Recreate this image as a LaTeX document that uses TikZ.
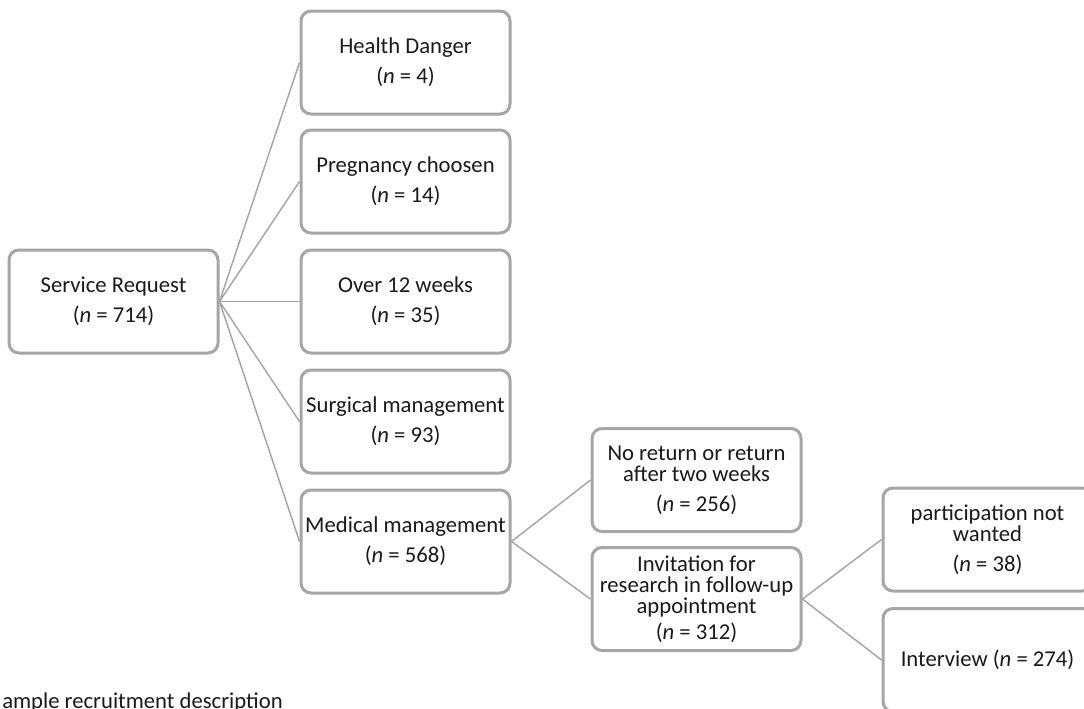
\documentclass[tikz,border=0pt]{standalone}
\usepackage{fontspec}
\setmainfont{Carlito}
\usetikzlibrary{positioning}
\definecolor{SRGrey}{HTML}{A6A6A6}
\definecolor{SRText}{HTML}{1A1A1A}

\begin{document}
\begin{tikzpicture}[x=0.75pt,y=-0.75pt,
    stage/.style={draw=SRGrey,line width=2.25pt,rounded corners=7.5pt,fill=white,
      minimum width=156.75pt,minimum height=77.25pt,align=center,inner sep=1pt,
      font=\fontsize{17}{15.75}\selectfont,text=SRText},
    link/.style={draw=SRGrey,line width=1.1pt}]
    \useasboundingbox (0,0) rectangle (1084,708);
    \node[stage] (req) at (113.5,301.5) {Service Request\\[7pt](\textit{n} = 714)};
    \node[stage] (hd)  at (405.5,62.5)  {Health Danger\\[7pt](\textit{n} = 4)};
    \node[stage] (pc)  at (405.5,181.5) {Pregnancy choosen\\[7pt](\textit{n} = 14)};
    \node[stage] (ow)  at (405.5,301.5) {Over 12 weeks\\[7pt](\textit{n} = 35)};
    \node[stage] (sm)  at (405.5,421.5) {Surgical management\\[7pt](\textit{n} = 93)};
    \node[stage] (mm)  at (405.5,541.5) {Medical management\\[7pt](\textit{n} = 568)};
    \node[stage] (nr)  at (696.5,480)   {No return or return\\after two weeks\\[7pt](\textit{n} = 256)};
    \node[stage] (inv) at (696.5,599)   {Invitation for\\research in follow-up\\appointment\\[4pt](\textit{n} = 312)};
    \node[stage] (pnw) at (987.5,539.5) {participation not\\wanted\\[7pt](\textit{n} = 38)};
    \node[stage] (iv)  at (987.5,660)   {Interview (\textit{n} = 274)};
    \draw[link] (req.east) -- (hd.west);
    \draw[link] (req.east) -- (pc.west);
    \draw[link] (req.east) -- (ow.west);
    \draw[link] (req.east) -- (sm.west);
    \draw[link] (req.east) -- (mm.west);
    \draw[link] (mm.east) -- (nr.west);
    \draw[link] (mm.east) -- (inv.west);
    \draw[link] (inv.east) -- (pnw.west);
    \draw[link] (inv.east) -- (iv.west);
    \node[font=\fontsize{17}{15.75}\selectfont,text=SRText,anchor=base west,inner sep=0pt]
      (cap) at (2,708) {ample recruitment description};
\end{tikzpicture}
\end{document}
